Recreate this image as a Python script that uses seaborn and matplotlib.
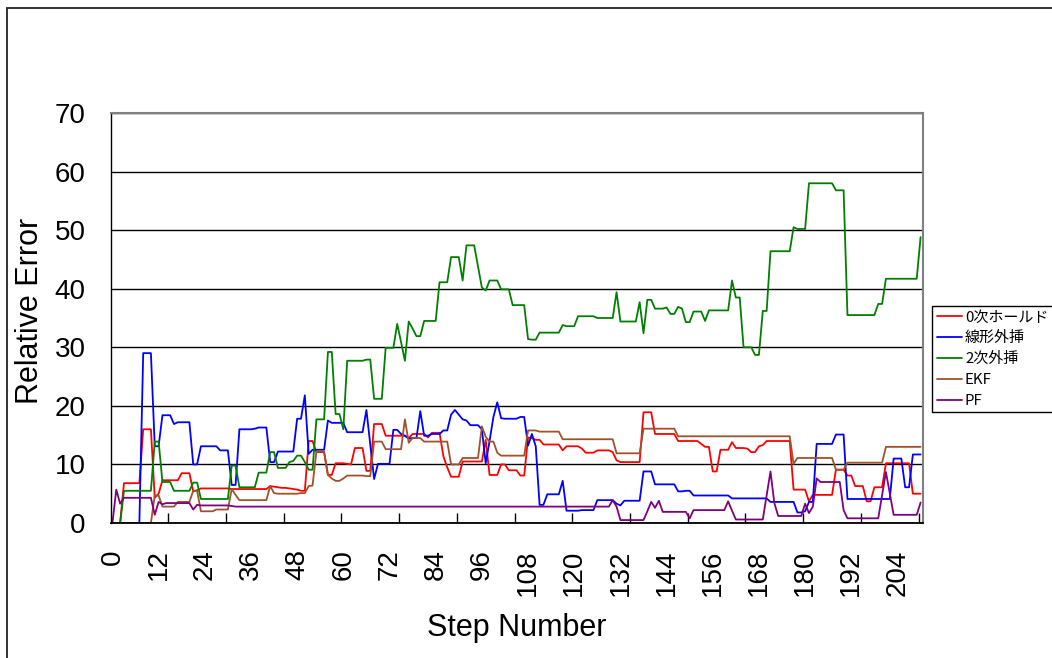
import numpy as np
import pandas as pd
import matplotlib
matplotlib.use("Agg")
import matplotlib.pyplot as plt
import seaborn as sns
from matplotlib.lines import Line2D
from matplotlib.patches import Rectangle
from matplotlib.ticker import FixedLocator

# ---- data: relative error per step for each estimator ----
steps = list(range(211))

zero_hold = [
    0, 0, 0, 6.8, 6.8, 6.8, 6.8, 6.8, 16.0, 16.0,
    16.0, 4.3, 5.0, 7.3, 7.3, 7.3, 7.3, 7.3, 8.5, 8.5,
    8.5, 5.4, 5.6, 5.9, 5.9, 5.9, 5.9, 5.9, 5.9, 5.9,
    5.9, 5.8, 5.8, 5.8, 5.8, 5.8, 5.8, 5.8, 5.8, 5.8,
    5.8, 6.3, 6.2, 6.1, 6.0, 6.0, 5.9, 5.8, 5.7, 5.5,
    5.5, 14.0, 14.0, 12.1, 12.1, 12.1, 8.2, 8.2, 10.2, 10.2,
    10.2, 10.1, 10.0, 12.8, 12.8, 12.8, 8.9, 8.9, 16.9, 16.9,
    16.9, 14.9, 14.9, 14.9, 14.9, 14.9, 14.9, 14.5, 15.2, 15.2,
    15.2, 15.2, 14.6, 15.4, 15.4, 15.4, 11.4, 9.5, 7.9, 7.9,
    7.9, 10.5, 10.5, 10.5, 10.5, 10.5, 10.5, 14.2, 8.2, 8.2,
    8.2, 10.0, 10.0, 9.0, 9.0, 9.0, 8.1, 8.1, 14.6, 14.5,
    14.2, 14.2, 13.4, 13.4, 13.4, 13.4, 13.4, 12.4, 13.1, 13.1,
    13.1, 13.1, 12.7, 12.0, 12.0, 12.0, 12.4, 12.4, 12.4, 12.4,
    12.1, 10.7, 10.4, 10.4, 10.4, 10.4, 10.4, 10.4, 18.9, 18.9,
    18.9, 15.2, 15.2, 15.2, 15.2, 15.2, 15.2, 14.0, 14.0, 14.0,
    14.0, 14.0, 14.0, 13.5, 13.0, 13.0, 8.8, 8.8, 12.5, 12.5,
    12.5, 13.8, 12.8, 12.8, 12.8, 12.7, 12.1, 12.1, 13.1, 13.3,
    14.0, 14.0, 14.0, 14.0, 14.0, 14.0, 14.0, 5.7, 5.7, 5.7,
    5.7, 3.7, 4.8, 4.8, 4.8, 4.8, 4.8, 4.8, 9.1, 9.1,
    9.1, 8.1, 8.1, 6.3, 6.3, 6.3, 3.7, 3.7, 6.1, 6.1,
    6.1, 10.2, 10.2, 10.2, 10.2, 10.2, 10.2, 10.2, 5.0, 5.0,
    5.0,
]

linear_extrap = [
    0, 0, 0, 0, 0, 0, 0, 0, 29.0, 29.0,
    29.0, 13.1, 13.1, 18.4, 18.4, 18.4, 16.9, 17.2, 17.2, 17.2,
    17.2, 10.0, 10.0, 13.1, 13.1, 13.1, 13.1, 13.1, 12.4, 12.4,
    12.4, 6.5, 6.5, 16.0, 16.0, 16.0, 16.0, 16.1, 16.3, 16.3,
    16.3, 10.4, 10.4, 12.2, 12.2, 12.2, 12.2, 12.2, 17.8, 17.8,
    21.8, 11.8, 12.5, 12.5, 12.5, 12.5, 17.5, 17.1, 17.1, 17.1,
    17.1, 15.5, 15.5, 15.5, 15.5, 15.5, 19.3, 13.4, 7.5, 10.1,
    10.1, 10.1, 10.1, 15.9, 15.9, 15.2, 14.9, 14.4, 14.5, 14.5,
    19.1, 14.9, 14.9, 15.2, 15.2, 15.2, 15.8, 15.8, 18.5, 19.3,
    18.5, 17.7, 17.5, 16.7, 16.7, 16.7, 16.0, 10.2, 14.0, 18.1,
    20.6, 17.9, 17.8, 17.8, 17.8, 17.8, 18.1, 18.1, 13.2, 15.2,
    13.1, 3.1, 3.1, 4.9, 4.9, 4.9, 4.9, 7.2, 2.1, 2.1,
    2.1, 2.1, 2.2, 2.2, 2.2, 2.2, 3.9, 3.9, 3.9, 3.9,
    3.9, 3.3, 3.0, 3.8, 3.8, 3.8, 3.8, 3.8, 8.8, 8.8,
    8.8, 6.6, 6.6, 6.6, 6.6, 6.6, 6.6, 5.4, 5.4, 5.5,
    5.5, 4.7, 4.7, 4.7, 4.7, 4.7, 4.7, 4.7, 4.7, 4.7,
    4.7, 4.2, 4.2, 4.2, 4.2, 4.2, 4.2, 4.2, 4.2, 4.2,
    4.2, 3.6, 3.6, 3.6, 3.6, 3.6, 3.6, 3.6, 1.8, 1.8,
    2.0, 3.6, 3.6, 13.5, 13.5, 13.5, 13.5, 13.5, 15.1, 15.1,
    15.1, 4.1, 4.1, 4.1, 4.1, 4.1, 4.1, 4.1, 4.1, 4.1,
    4.1, 4.1, 4.1, 11.0, 11.0, 11.0, 6.1, 6.1, 11.7, 11.7,
    11.7,
]

quad_extrap = [
    0, 0, 0, 5.5, 5.5, 5.5, 5.5, 5.5, 5.5, 5.5,
    5.5, 13.9, 13.9, 7.0, 7.0, 7.0, 5.5, 5.5, 5.5, 5.5,
    5.5, 6.9, 6.9, 4.1, 4.1, 4.1, 4.1, 4.1, 4.1, 4.1,
    4.1, 9.8, 9.8, 6.1, 6.1, 6.1, 6.1, 6.1, 8.6, 8.6,
    8.6, 12.1, 12.1, 9.4, 9.4, 9.4, 10.4, 10.6, 11.5, 11.5,
    10.4, 9.1, 9.1, 17.7, 17.7, 17.7, 29.2, 29.2, 18.6, 18.6,
    16.0, 27.7, 27.7, 27.7, 27.7, 27.7, 27.9, 27.9, 21.2, 21.2,
    21.2, 29.9, 29.9, 29.9, 34.0, 30.9, 27.7, 34.4, 33.2, 31.9,
    31.9, 34.5, 34.5, 34.5, 34.5, 41.1, 41.1, 41.1, 45.4, 45.4,
    45.4, 41.4, 47.4, 47.4, 47.4, 43.8, 40.2, 39.7, 41.4, 41.4,
    41.4, 39.9, 39.9, 39.9, 37.2, 37.2, 37.2, 37.2, 31.4, 31.3,
    31.3, 32.5, 32.5, 32.5, 32.5, 32.5, 32.5, 33.8, 33.6, 33.6,
    33.6, 35.3, 35.3, 35.3, 35.3, 35.3, 35.0, 35.0, 35.0, 35.0,
    35.0, 39.4, 34.4, 34.4, 34.4, 34.4, 34.4, 37.7, 32.4, 38.1,
    38.1, 36.6, 36.6, 36.6, 36.8, 35.7, 35.7, 36.9, 36.6, 34.3,
    34.3, 36.1, 36.1, 36.1, 34.5, 36.3, 36.3, 36.3, 36.3, 36.3,
    36.3, 41.4, 38.5, 38.5, 30.0, 30.0, 30.0, 28.7, 28.7, 36.2,
    36.2, 46.4, 46.4, 46.4, 46.4, 46.4, 46.4, 50.5, 50.2, 50.2,
    50.2, 58.0, 58.0, 58.0, 58.0, 58.0, 58.0, 58.0, 56.8, 56.8,
    56.8, 35.5, 35.5, 35.5, 35.5, 35.5, 35.5, 35.5, 35.5, 37.4,
    37.4, 41.7, 41.7, 41.7, 41.7, 41.7, 41.7, 41.7, 41.7, 41.7,
    48.8,
]

ekf = [
    0, 0, 0, 0, 0, 0, 0, 0, 0, 0,
    0, 4.7, 4.7, 2.8, 2.8, 2.8, 2.8, 3.6, 3.6, 3.6,
    3.6, 5.5, 5.5, 2.0, 2.0, 2.0, 2.0, 2.3, 2.3, 2.3,
    2.3, 5.8, 4.8, 3.9, 3.9, 3.9, 3.9, 3.9, 3.9, 3.9,
    3.9, 6.3, 5.1, 5.0, 5.0, 5.0, 5.0, 5.0, 5.0, 5.1,
    5.1, 6.3, 6.4, 12.2, 12.2, 12.2, 8.2, 7.6, 7.2, 7.2,
    7.6, 8.1, 8.1, 8.1, 8.1, 8.1, 8.0, 8.0, 13.9, 13.9,
    13.9, 12.6, 12.6, 12.6, 12.6, 12.6, 17.7, 13.7, 14.5, 14.5,
    14.5, 13.9, 13.9, 13.9, 13.9, 13.9, 13.9, 13.9, 10.0, 10.0,
    10.0, 11.1, 11.1, 11.1, 11.1, 11.1, 16.5, 14.7, 13.9, 13.9,
    12.0, 11.5, 11.5, 11.5, 11.5, 11.5, 11.5, 11.5, 15.8, 15.8,
    15.8, 15.6, 15.6, 15.6, 15.6, 15.6, 15.6, 14.3, 14.3, 14.3,
    14.3, 14.3, 14.3, 14.3, 14.3, 14.3, 14.3, 14.3, 14.3, 14.3,
    14.3, 11.9, 11.9, 11.9, 11.9, 11.9, 11.9, 11.9, 16.1, 16.1,
    16.1, 16.1, 16.1, 16.1, 16.1, 16.1, 16.1, 14.8, 14.8, 14.8,
    14.8, 14.8, 14.8, 14.8, 14.8, 14.8, 14.8, 14.8, 14.8, 14.8,
    14.8, 14.8, 14.8, 14.8, 14.8, 14.8, 14.8, 14.8, 14.8, 14.8,
    14.8, 14.8, 14.8, 14.8, 14.8, 14.8, 14.8, 10.1, 11.1, 11.1,
    11.1, 11.1, 11.1, 11.1, 11.1, 11.1, 11.1, 11.1, 9.1, 9.1,
    9.1, 10.3, 10.3, 10.3, 10.3, 10.3, 10.3, 10.3, 10.3, 10.3,
    10.3, 13.0, 13.0, 13.0, 13.0, 13.0, 13.0, 13.0, 13.0, 13.0,
    13.0,
]

pf = [
    0, 5.7, 3.3, 4.3, 4.3, 4.3, 4.3, 4.3, 4.3, 4.3,
    4.3, 1.4, 3.6, 3.2, 3.4, 3.4, 3.4, 3.4, 3.4, 3.4,
    3.4, 2.3, 3.1, 3.0, 3.0, 3.0, 3.0, 3.0, 3.0, 3.0,
    3.0, 2.9, 2.8, 2.8, 2.8, 2.8, 2.8, 2.8, 2.8, 2.8,
    2.8, 2.8, 2.8, 2.8, 2.8, 2.8, 2.8, 2.8, 2.8, 2.8,
    2.8, 2.8, 2.8, 2.8, 2.8, 2.8, 2.8, 2.8, 2.8, 2.8,
    2.8, 2.8, 2.8, 2.8, 2.8, 2.8, 2.8, 2.8, 2.8, 2.8,
    2.8, 2.8, 2.8, 2.8, 2.8, 2.8, 2.8, 2.8, 2.8, 2.8,
    2.8, 2.8, 2.8, 2.8, 2.8, 2.8, 2.8, 2.8, 2.8, 2.8,
    2.8, 2.8, 2.8, 2.8, 2.8, 2.8, 2.8, 2.8, 2.8, 2.8,
    2.8, 2.8, 2.8, 2.8, 2.8, 2.8, 2.8, 2.8, 2.8, 2.8,
    2.8, 2.8, 2.8, 2.8, 2.8, 2.8, 2.8, 2.8, 2.8, 2.8,
    2.8, 2.8, 2.8, 2.8, 2.8, 2.8, 2.8, 2.8, 2.8, 2.8,
    3.9, 2.8, 0.5, 0.5, 0.5, 0.5, 0.5, 0.5, 0.5, 2.0,
    3.6, 2.6, 3.8, 1.9, 1.9, 1.9, 1.9, 1.9, 1.9, 1.9,
    0.8, 2.2, 2.2, 2.2, 2.2, 2.2, 2.2, 2.2, 2.2, 2.2,
    3.7, 2.1, 0.6, 0.6, 0.6, 0.6, 0.6, 0.6, 0.6, 0.6,
    4.7, 8.8, 3.4, 1.2, 1.2, 1.2, 1.2, 1.2, 1.2, 1.2,
    3.3, 1.7, 2.8, 7.6, 7.0, 7.0, 7.0, 7.0, 7.0, 7.0,
    2.2, 0.8, 0.8, 0.8, 0.8, 0.8, 0.8, 0.8, 0.8, 0.8,
    4.7, 8.7, 5.0, 1.4, 1.4, 1.4, 1.4, 1.4, 1.4, 1.4,
    3.5,
]

series_names = ["0次ホールド", "線形外挿", "2次外挿", "EKF", "PF"]
series_colors = ["#FF0000", "#0000FF", "#008000", "#A0522D", "#800080"]
x_tick_values = list(range(0, 205, 12))
y_tick_values = list(range(0, 71, 10))

# ---- style ----
sns.set_style("white")
plt.rcParams["font.family"] = ["Liberation Sans", "Noto Sans CJK JP", "DejaVu Sans"]
plt.rcParams["text.color"] = "black"
plt.rcParams["axes.labelcolor"] = "black"
plt.rcParams["xtick.color"] = "black"
plt.rcParams["ytick.color"] = "black"

frames = []
for name, vals in zip(series_names, [zero_hold, linear_extrap, quad_extrap, ekf, pf]):
    frames.append(pd.DataFrame({"step": steps, "value": vals, "series": name}))
df = pd.concat(frames, ignore_index=True)

W, H = 1052, 658
fig = plt.figure(figsize=(W / 100, H / 100), dpi=100)
ax = fig.add_axes([110.5 / W, (H - 523) / H, 812 / W, 410 / H])

sns.lineplot(
    data=df, x="step", y="value", hue="series", hue_order=series_names,
    palette=dict(zip(series_names, series_colors)), estimator=None,
    linewidth=1.3, legend=False, ax=ax,
)

ax.set_xlim(-0.5, 210.5)
ax.set_ylim(0, 70)
ax.set_xlabel("")
ax.set_ylabel("")

# horizontal gridlines
ax.set_axisbelow(True)
ax.yaxis.grid(True, color="black", linewidth=1.0)
ax.xaxis.grid(False)

# category labels every 12 steps, tick marks every 15 steps
ax.set_xticks(x_tick_values)
ax.set_xticklabels([str(v) for v in x_tick_values], rotation=90)
ax.tick_params(axis="x", which="major", length=0, pad=19, labelsize=20,
               labelcolor="black")
ax.xaxis.set_minor_locator(FixedLocator(np.arange(14.5, 210, 15)))
ax.tick_params(axis="x", which="minor", direction="in", length=7.5,
               width=1.0, color="black", bottom=True)

ax.set_yticks(y_tick_values)
ax.tick_params(axis="y", length=0, pad=18, labelsize=20, labelcolor="black")

for side in ["top", "right"]:
    ax.spines[side].set_color("#808080")
    ax.spines[side].set_linewidth(1.5)
ax.spines["left"].set_color("black")
ax.spines["left"].set_linewidth(1.0)
ax.spines["bottom"].set_color("black")
ax.spines["bottom"].set_linewidth(1.3)

fig.text(30 / W, 1 - 311 / H, "Relative Error", rotation=90,
         ha="center", va="center", fontsize=22, color="black")
fig.text(517 / W, 1 - 628 / H, "Step Number", ha="center", va="center",
         fontsize=22, color="black")

handles = [Line2D([], [], color=c, linewidth=1.3) for c in series_colors]
leg = fig.legend(
    handles, series_names, loc="upper left",
    bbox_to_anchor=(932 / W, 1 - 306 / H), frameon=True, fancybox=False,
    edgecolor="black", framealpha=1, borderaxespad=0,
    prop={"family": ["Noto Sans CJK JP", "DejaVu Sans"], "size": 10.8},
    handlelength=1.7, handletextpad=0.2, borderpad=0.3, labelspacing=0.45,
)
leg.get_frame().set_linewidth(1.0)
for t in leg.get_texts():
    t.set_color("black")

# outer chart frame
fig.patches.append(Rectangle((7 / W, -0.1), 1.2, 1.1 - 8 / H,
                             transform=fig.transFigure, fill=False,
                             edgecolor="#222222", linewidth=1.3))

fig.savefig("out.png", dpi=100)
